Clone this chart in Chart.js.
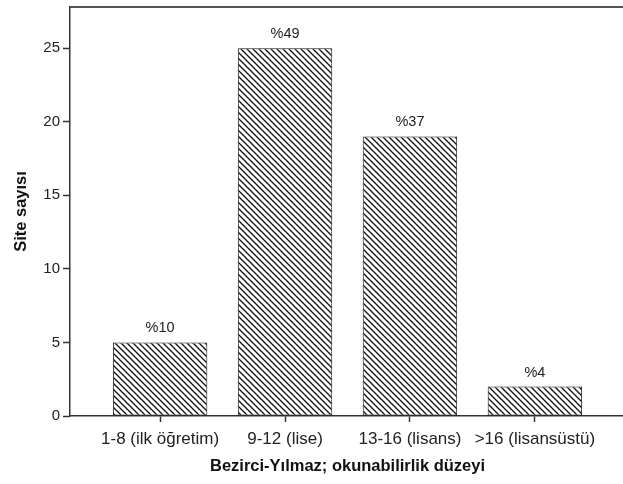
<!DOCTYPE html>
<html>
<head>
<meta charset="utf-8">
<script src="https://cdn.jsdelivr.net/npm/chart.js@4/dist/chart.umd.min.js"></script>
<style>
  html, body { margin: 0; padding: 0; background: #fff; overflow: hidden; width: 623px; height: 484px; }
  #wrap { position: relative; width: 625px; height: 484px; }
</style>
</head>
<body>
<div id="wrap"><canvas id="c"></canvas></div>
<script>
const categories = ['1-8 (ilk öğretim)', '9-12 (lise)', '13-16 (lisans)', '>16 (lisansüstü)'];
const siteCounts = [5, 25, 19, 2];
const percentLabels = ['%10', '%49', '%37', '%4'];
const yTicks = [0, 5, 10, 15, 20, 25];
const xTitle = 'Bezirci-Yılmaz; okunabilirlik düzeyi';
const yTitle = 'Site sayısı';

const FONT = "'Liberation Sans', Arial, sans-serif";

function makeHatch() {
  const s = 6;
  const c = document.createElement('canvas');
  c.width = s; c.height = s;
  const g = c.getContext('2d');
  g.fillStyle = '#fff';
  g.fillRect(0, 0, s, s);
  g.strokeStyle = '#111';
  g.lineWidth = 1.3;
  g.beginPath();
  for (const x0 of [-s, 0, s]) {
    g.moveTo(x0 - 1, -1);
    g.lineTo(x0 + s + 1, s + 1);
  }
  g.stroke();
  return document.getElementById('c').getContext('2d').createPattern(c, 'repeat');
}

const pctPlugin = {
  id: 'pctLabels',
  afterDatasetsDraw(chart) {
    const ctx = chart.ctx;
    const meta = chart.getDatasetMeta(0);
    ctx.save();
    ctx.font = '14.5px ' + FONT;
    ctx.fillStyle = '#222';
    ctx.textAlign = 'center';
    ctx.textBaseline = 'middle';
    meta.data.forEach((bar, i) => {
      ctx.fillText(percentLabels[i], bar.x, bar.y - 14);
    });
    ctx.restore();
  }
};

new Chart(document.getElementById('c'), {
  type: 'bar',
  data: {
    datasets: [{
      data: siteCounts.map((v, i) => ({ x: i, y: v })),
      backgroundColor: makeHatch(),
      borderColor: '#111',
      borderWidth: 1,
      borderSkipped: false,
      categoryPercentage: 0.756,
      barPercentage: 1
    }]
  },
  options: {
    responsive: true,
    maintainAspectRatio: false,
    animation: false,
    devicePixelRatio: 1,
    layout: { padding: { left: 0, right: 0, top: 0, bottom: 0 } },
    plugins: { legend: { display: false }, tooltip: { enabled: false } },
    scales: {
      x: {
        type: 'linear',
        position: 'bottom',
        offset: false,
        min: -0.721,
        max: categories.length - 1 + 0.721,
        afterBuildTicks(scale) { scale.ticks = categories.map((c, i) => ({ value: i })); },
        afterFit(scale) { scale.height = 68; scale.paddingLeft = 0; scale.paddingRight = 0; },
        grid: { offset: false, drawOnChartArea: false, drawTicks: true, tickLength: 6, tickColor: '#333', tickWidth: 1.5 },
        border: { display: true, color: '#333', width: 1.5 },
        ticks: {
          autoSkip: false, maxRotation: 0, padding: 7, color: '#222',
          font: { family: FONT, size: 17 },
          callback: (v) => categories[v]
        },
        title: {
          display: true, text: xTitle, color: '#111',
          font: { family: FONT, size: 16.5, weight: 'bold' },
          padding: { top: 0, bottom: 8 }
        }
      },
      x2: {
        type: 'linear',
        position: 'top',
        display: true,
        offset: false,
        afterFit(scale) { scale.height = 7; scale.paddingLeft = 0; scale.paddingRight = 0; },
        grid: { offset: false, drawOnChartArea: false, drawTicks: false },
        border: { display: true, color: '#555', width: 2 },
        ticks: { display: false }
      },
      y: {
        type: 'linear',
        min: 0,
        max: 27.8,
        afterBuildTicks(scale) { scale.ticks = yTicks.map(v => ({ value: v })); },
        afterFit(scale) { scale.width = 70; scale.paddingTop = 0; scale.paddingBottom = 0; },
        grid: { drawOnChartArea: false, drawTicks: true, tickLength: 7, tickColor: '#333', tickWidth: 1.5 },
        border: { display: true, color: '#333', width: 1.5 },
        ticks: { padding: 3, color: '#222', font: { family: FONT, size: 15 } },
        title: {
          display: true, text: yTitle, color: '#111',
          font: { family: FONT, size: 16.5, weight: 'bold' },
          padding: { top: 12, bottom: 0 }
        }
      }
    }
  },
  plugins: [pctPlugin]
});
</script>
</body>
</html>
